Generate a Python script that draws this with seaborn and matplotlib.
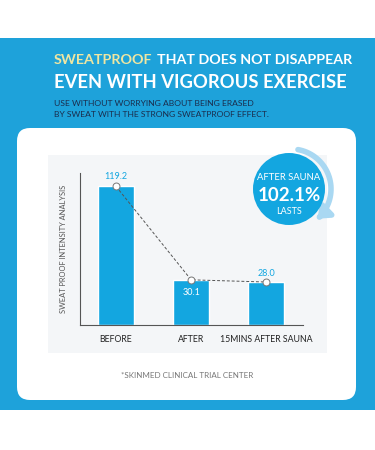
import numpy as np
import matplotlib
matplotlib.use("Agg")
import matplotlib.pyplot as plt
import seaborn as sns
from matplotlib.patches import Rectangle, FancyBboxPatch, Circle, FancyArrowPatch
from matplotlib.path import Path
from matplotlib.transforms import Affine2D

# data
categories = ["BEFORE", "AFTER", "15MINS AFTER SAUNA"]
values = np.array([119.2, 30.1, 28.0])
value_labels = ["119.2", "30.1", "28.0"]
badge_lines = ["AFTER SAUNA", "102.1%", "LASTS"]

BLUE = "#1ea2da"
BAR = "#13a6e0"
YELLOW = "#efe6a2"
NAVY = "#1b2d4d"
W, H = 375, 450


def px(x, y):
    # pixel position (from top-left) -> figure fraction
    return x / W, 1 - y / H


sns.set_theme(style="white")
plt.rcParams["font.family"] = ["Lato", "DejaVu Sans"]

fig = plt.figure(figsize=(3.75, 4.5), dpi=100)
fig.patch.set_facecolor("white")
# pixel coords measured from the top-left corner
ptrans = Affine2D().scale(1, -1).translate(0, H)

# blue band + white card + grey panel
fig.patches.append(Rectangle((0, 38), W, 372, transform=ptrans,
                             facecolor=BLUE, edgecolor="none", zorder=-3))
fig.patches.append(FancyBboxPatch((17, 128), 339, 272, transform=ptrans,
                                  boxstyle="round,pad=0,rounding_size=13",
                                  facecolor="white", edgecolor="none", zorder=-2))
fig.patches.append(Rectangle((48, 155), 279, 198, transform=ptrans,
                             facecolor="#f4f6f8", edgecolor="none", zorder=-1))

# headline text
fig.text(*px(54, 60), "SWEATPROOF", color=YELLOW, fontsize=10.3, fontweight="bold", va="center")
fig.text(*px(157, 60), "THAT DOES NOT DISAPPEAR", color="white", fontsize=10.3,
         fontweight="bold", va="center")
fig.text(*px(54, 82), "EVEN WITH VIGOROUS EXERCISE", color="white", fontsize=13.2,
         fontweight="bold", va="center")
fig.text(*px(54, 103), "USE WITHOUT WORRYING ABOUT BEING ERASED", color=NAVY,
         fontsize=6.1, va="center")
fig.text(*px(54, 114), "BY SWEAT WITH THE STRONG SWEATPROOF EFFECT.", color=NAVY,
         fontsize=6.1, va="center")

# chart
base = -13
ax = fig.add_axes([80 / W, 1 - 325 / H, 223 / W, 152 / H])
ax.set_facecolor("none")
sns.barplot(x=categories, y=values - base, bottom=base, color=BAR, width=0.48,
            saturation=1, ax=ax)
ax.set_ylim(base, 132)
ax.set_xlim(-0.48, 2.49)
xs = np.arange(len(values))
ax.plot(xs, values, linestyle=(0, (3, 2)), color="#555555", linewidth=0.7,
        marker="o", markersize=5, markerfacecolor="white", markeredgecolor="#777777",
        markeredgewidth=0.7, zorder=5)
ax.text(0, values[0] + 9, value_labels[0], ha="center", va="center", color=BAR, fontsize=6.5)
ax.text(1, values[1] - 12, value_labels[1], ha="center", va="center", color="white", fontsize=6.5)
ax.text(2, values[2] + 8, value_labels[2], ha="center", va="center", color=BAR, fontsize=6.5)

for s in ["top", "right"]:
    ax.spines[s].set_visible(False)
for s in ["left", "bottom"]:
    ax.spines[s].set_color("#555555")
    ax.spines[s].set_linewidth(0.8)
ax.set_yticks([])
ax.tick_params(axis="x", length=0, pad=7, labelsize=6.3, labelcolor="#222222")
ax.set_xlabel("")
ax.set_ylabel("SWEAT PROOF INTENSITY ANALYSIS", fontsize=5.4, color="#555555", labelpad=9)

# badge
cx, cy, r = 289, 189, 36
arc_r = r + 4
theta = np.radians(np.linspace(80, -48, 40))
verts = np.column_stack([cx + 2 + arc_r * np.cos(theta), cy - arc_r * np.sin(theta)])
arrow = FancyArrowPatch(path=Path(ptrans.transform(verts)),
                        arrowstyle="-|>,head_length=6,head_width=5",
                        color="#a9d8f2", linewidth=4, transform=None, zorder=1)
fig.patches.append(arrow)
fig.patches.append(Circle((cx, cy), r, transform=ptrans,
                          facecolor=BAR, edgecolor="none", zorder=2))
fig.text(*px(cx, 178), badge_lines[0], color="white", fontsize=6.8, ha="center", va="center", zorder=3)
fig.text(*px(cx, 196), badge_lines[1], color="white", fontsize=13.5, fontweight="bold",
         ha="center", va="center", zorder=3)
fig.text(*px(cx, 212), badge_lines[2], color="white", fontsize=6.5, ha="center", va="center", zorder=3)

fig.text(*px(187, 376), "*SKINMED CLINICAL TRIAL CENTER", color="#777777", fontsize=5.8,
         ha="center", va="center")

fig.savefig("out.png", dpi=100)
